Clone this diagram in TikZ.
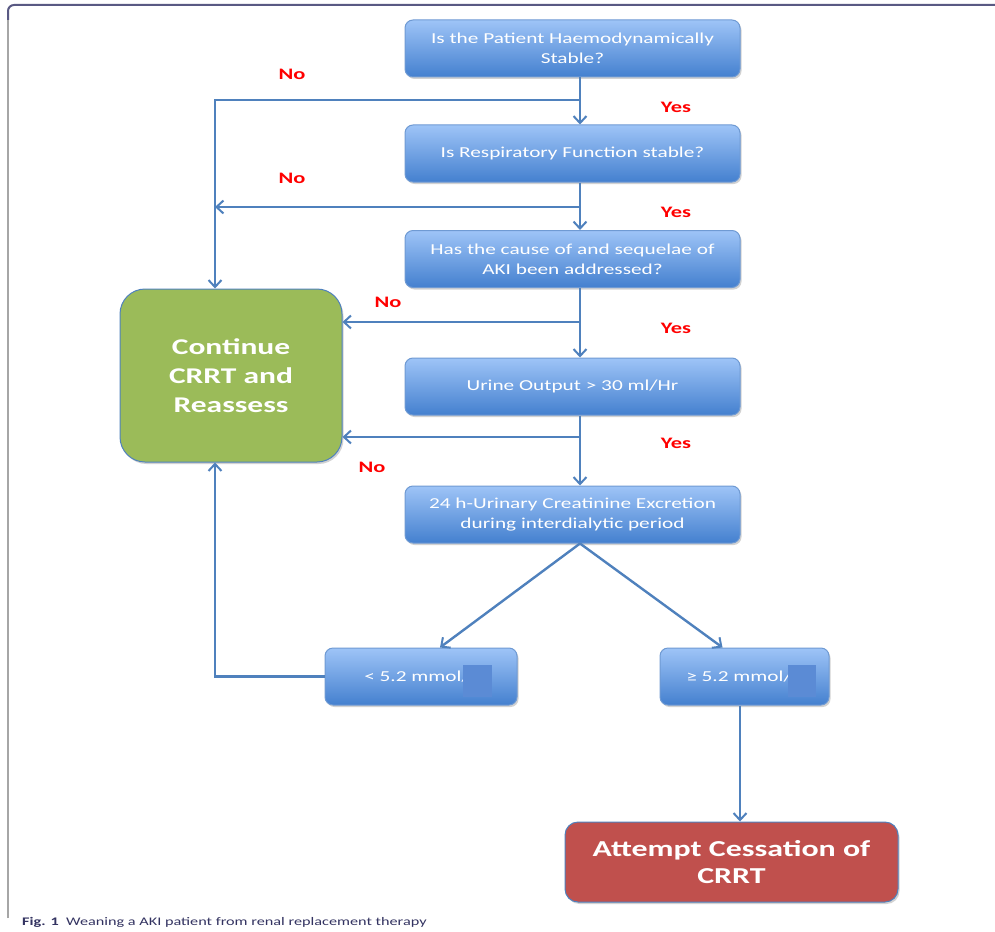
\documentclass[tikz,border=0pt]{standalone}
\usepackage{fontspec}
\setmainfont{Carlito}[FakeStretch=1.4]
\usetikzlibrary{arrows.meta,shadows,calc}
\definecolor{arr}{HTML}{4F81BD}
\definecolor{btop}{HTML}{9EC4F7}
\definecolor{bbot}{HTML}{4480CF}
\definecolor{bbord}{HTML}{6F9AD3}
\definecolor{grn}{HTML}{9BBB59}
\definecolor{redc}{HTML}{C0504D}
\definecolor{sq}{HTML}{5B8BD5}
\tikzset{
  bluebox/.style={draw=bbord, line width=1pt, rounded corners=8pt, top color=btop, bottom color=bbot,
    minimum height=57pt, inner sep=0pt, align=center, text=white, font=\fontsize{15.2}{20}\selectfont,
    drop shadow={opacity=0.35, shadow xshift=1.5pt, shadow yshift=-2pt}},
  conn/.style={draw=arr, line width=2.4pt, -{Straight Barb[length=7pt,width=13pt,line width=2pt]}},
  lab/.style={text=red, font=\bfseries\fontsize{16}{18}\selectfont},
}
\begin{document}
\begin{tikzpicture}[x=1pt,y=-1pt]
\useasboundingbox (0,0) rectangle (995,931);
\draw[fill=white,draw=none] (0,0) rectangle (995,931);
% frame
\draw[draw=gray!70, line width=2pt] (8,918) -- (8,12);
\draw[draw=black!45!blue!30!gray, line width=2pt, rounded corners=6pt] (8,20) -- (8,5) -- (995,5);
% boxes
\node[bluebox, minimum width=335pt] (B1) at (572.5,48.5) {Is the Patient Haemodynamically\\Stable?};
\node[bluebox, minimum width=335pt] (B2) at (572.5,153.5) {Is Respiratory Function stable?};
\node[bluebox, minimum width=335pt] (B3) at (572.5,259) {Has the cause of and sequelae of\\AKI been addressed?};
\node[bluebox, minimum width=335pt] (B4) at (572.5,386.5) {Urine Output > 30 ml/Hr};
\node[bluebox, minimum width=335pt] (B5) at (572.5,514.5) {24 h-Urinary Creatinine Excretion\\during interdialytic period};
\node[draw=arr, line width=1pt, fill=grn, rounded corners=25pt, minimum width=222pt, minimum height=173pt,
  inner sep=0pt, align=center, text=white, font=\bfseries\fontsize{22.5}{29}\selectfont,
  drop shadow={opacity=0.35, shadow xshift=1.5pt, shadow yshift=-2pt}] (G) at (231,375.5) {Continue\\CRRT and\\Reassess};
\node[bluebox, minimum width=192pt] (L) at (421,676.5) {< 5.2 mmol/\hspace*{8pt}};
\node[bluebox, minimum width=169pt] (R) at (744.5,676.5) {≥ 5.2 mmol/\hspace*{11pt}};
\node[draw=arr, line width=1pt, fill=redc, rounded corners=13pt, minimum width=333pt, minimum height=80pt,
  inner sep=0pt, align=center, text=white, font=\bfseries\fontsize{22.8}{27}\selectfont,
  drop shadow={opacity=0.35, shadow xshift=1.5pt, shadow yshift=-2pt}] (X) at (731.5,862) {Attempt Cessation of\\CRRT};
% cover squares
\fill[sq] (463,665) rectangle (492,697);
\fill[sq] (788,665) rectangle (816,697);
% trunk coordinates
\coordinate (tr) at (580,0);
\coordinate (lx) at (215,0);
\coordinate (rx) at (740,0);
\coordinate (j1) at (580,100);
\coordinate (j2) at (580,207);
\coordinate (j3) at (580,322);
\coordinate (j4) at (580,437);
\draw[conn] (B1.south -| tr) -- (B2.north -| tr);
\draw[conn] (B2.south -| tr) -- (B3.north -| tr);
\draw[conn] (B3.south -| tr) -- (B4.north -| tr);
\draw[conn] (B4.south -| tr) -- (B5.north -| tr);
\draw[conn] (j1) -| (G.north -| lx);
\draw[conn] (j2) -- (j2 -| lx);
\draw[conn] (j3) -- (j3 -| G.east);
\draw[conn] (j4) -- (j4 -| G.east);
\draw[conn] (B5.south -| tr) -- ([xshift=19pt]L.north);
\draw[conn] (B5.south -| tr) -- ([xshift=-22pt]R.north);
\draw[conn] (L.west) -| (G.south -| lx);
\draw[conn] (R.south -| rx) -- (X.north -| rx);
% labels
\node[lab] (n1) at (292,74) {No};
\node[lab] (n2) at (292,178) {No};
\node[lab] (n3) at (388,302) {No};
\node[lab] (n4) at (372,467) {No};
\node[lab] (y1) at (676,107) {Yes};
\node[lab] (y2) at (676,212) {Yes};
\node[lab] (y3) at (676,328) {Yes};
\node[lab] (y4) at (676,443) {Yes};
% caption
\node[anchor=west, inner sep=0pt, text=black!70!blue!60!gray, font=\fontsize{11.6}{13}\selectfont] (cap) at (22,922) {\textbf{Fig. 1}\ \ Weaning a AKI patient from renal replacement therapy};
\end{tikzpicture}
\end{document}
